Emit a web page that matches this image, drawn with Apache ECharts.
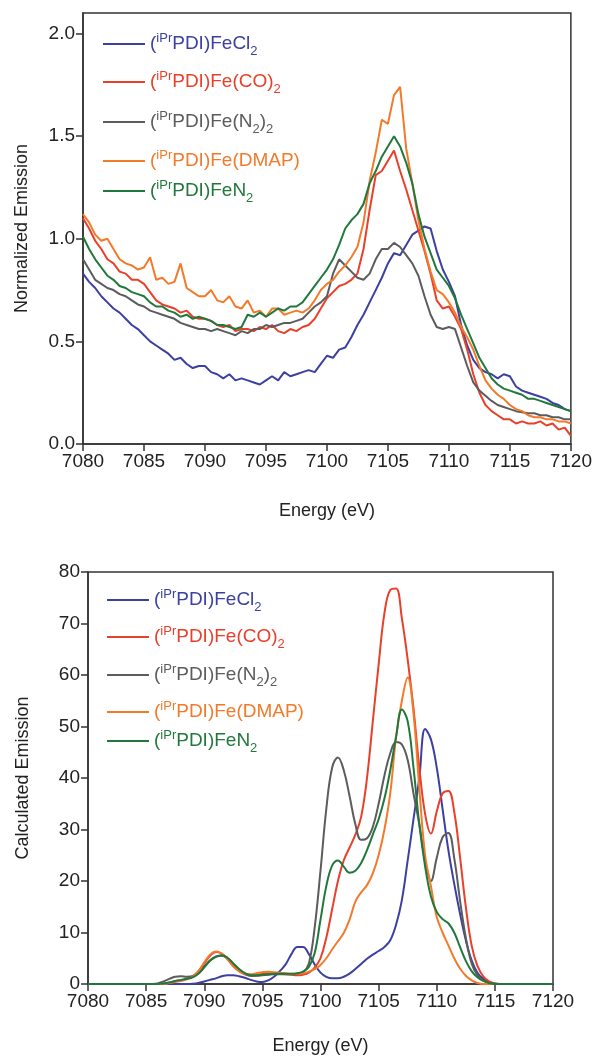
<!DOCTYPE html>
<html>
<head>
<meta charset="utf-8">
<script src="https://cdn.jsdelivr.net/npm/echarts@6/dist/echarts.min.js"></script>
<style>
  html, body { margin: 0; padding: 0; background: #fff; }
  #chart { width: 595px; height: 1056px; }
</style>
</head>
<body>
<div id="chart"></div>
<script>
// series keys / legend labels
var names = ["FeCl2", "Fe(CO)2", "Fe(N2)2", "Fe(DMAP)", "FeN2"];
var colors = ["#3c40a0", "#e8402a", "#5c5c5c", "#f27a2a", "#22783c"];

// ---- top panel: measured emission, energies 7080..7120 every 0.5 eV
var expEnergy = [];
for (var e = 7080; e <= 7120; e += 0.5) expEnergy.push(e);

var expFeCl2 = [0.83,0.79,0.76,0.72,0.69,0.66,0.64,0.61,0.58,0.56,0.53,0.50,0.48,0.46,0.44,0.41,0.42,0.39,0.37,0.38,
  0.38,0.35,0.34,0.32,0.34,0.31,0.32,0.31,0.30,0.29,0.31,0.33,0.31,0.35,0.33,0.34,0.35,0.36,0.35,0.39,
  0.43,0.42,0.46,0.47,0.52,0.58,0.63,0.69,0.75,0.81,0.88,0.93,0.92,0.97,1.02,1.04,1.06,1.05,0.94,0.85,
  0.79,0.72,0.58,0.48,0.41,0.37,0.35,0.34,0.32,0.34,0.33,0.28,0.26,0.25,0.24,0.23,0.22,0.20,0.19,0.17,0.16];
var expFeCO2 = [1.10,1.05,0.99,0.95,0.90,0.88,0.84,0.83,0.80,0.80,0.78,0.74,0.70,0.68,0.67,0.66,0.64,0.65,0.62,0.61,
  0.61,0.60,0.58,0.57,0.58,0.55,0.56,0.56,0.55,0.57,0.56,0.58,0.55,0.54,0.56,0.55,0.57,0.58,0.61,0.66,
  0.71,0.74,0.77,0.78,0.80,0.83,0.95,1.14,1.31,1.33,1.38,1.43,1.33,1.24,1.14,1.04,0.94,0.83,0.70,0.66,
  0.67,0.62,0.56,0.46,0.34,0.25,0.19,0.16,0.14,0.12,0.12,0.10,0.11,0.10,0.10,0.11,0.09,0.10,0.07,0.08,0.04];
var expFeN22 = [0.90,0.85,0.80,0.78,0.76,0.75,0.73,0.72,0.70,0.68,0.67,0.65,0.64,0.63,0.62,0.61,0.59,0.58,0.57,0.56,
  0.56,0.55,0.56,0.55,0.54,0.53,0.55,0.54,0.56,0.56,0.58,0.57,0.58,0.59,0.59,0.60,0.61,0.64,0.67,0.69,
  0.72,0.83,0.90,0.87,0.84,0.81,0.80,0.83,0.90,0.95,0.95,0.98,0.96,0.92,0.88,0.82,0.72,0.63,0.57,0.56,
  0.57,0.56,0.47,0.38,0.30,0.26,0.235,0.21,0.19,0.18,0.17,0.16,0.155,0.15,0.15,0.14,0.14,0.13,0.13,0.12,0.12];
var expFeDMAP = [1.12,1.08,1.02,0.99,1.00,0.95,0.90,0.88,0.87,0.85,0.86,0.91,0.80,0.81,0.78,0.79,0.88,0.76,0.74,0.72,
  0.72,0.75,0.70,0.69,0.72,0.67,0.66,0.70,0.64,0.65,0.62,0.66,0.66,0.63,0.64,0.65,0.64,0.66,0.70,0.75,
  0.78,0.80,0.84,0.87,0.91,0.96,1.08,1.28,1.42,1.58,1.56,1.70,1.74,1.44,1.27,1.09,0.95,0.84,0.75,0.73,
  0.69,0.64,0.57,0.52,0.46,0.38,0.31,0.27,0.24,0.22,0.19,0.17,0.16,0.14,0.13,0.13,0.12,0.12,0.11,0.11,0.10];
var expFeN2 = [1.01,0.95,0.90,0.86,0.82,0.80,0.77,0.76,0.74,0.73,0.72,0.69,0.67,0.67,0.65,0.64,0.62,0.63,0.61,0.62,
  0.61,0.60,0.58,0.58,0.57,0.56,0.57,0.63,0.62,0.64,0.62,0.64,0.66,0.65,0.67,0.67,0.69,0.73,0.77,0.81,
  0.85,0.90,0.97,1.05,1.09,1.12,1.17,1.27,1.33,1.40,1.45,1.50,1.45,1.37,1.27,1.12,1.01,0.93,0.85,0.81,
  0.77,0.71,0.63,0.56,0.49,0.42,0.37,0.32,0.29,0.27,0.26,0.25,0.24,0.22,0.22,0.21,0.20,0.19,0.18,0.17,0.16];

// ---- bottom panel: calculated emission, energies 7084..7116 every 0.5 eV (zero outside)
var calcEnergy = [];
for (var c = 7084; c <= 7116; c += 0.5) calcEnergy.push(c);

var calcFeCl2 = [0,0,0,0,0,0,0,0,0,0,0.05,0.2,0.5,0.8,1.1,1.5,1.7,1.7,1.5,1.2,
  0.8,0.5,0.4,0.7,1.4,2.5,3.8,5.8,7.2,7.2,5.8,3.8,2.2,1.4,1.1,1.1,1.4,2.0,2.9,3.9,
  4.9,5.7,6.4,7.2,8.5,11.5,16.3,24,32,40,49.5,47.5,42,34,26,19.5,13.7,8.5,4.6,2.2,
  1.0,0.4,0.1,0,0];
var calcFeCO2 = [0,0,0,0,0,0.1,0.3,0.5,0.7,1.0,1.5,2.5,4.0,5.5,6.2,5.9,4.8,3.5,2.5,1.9,
  1.6,1.7,2.0,2.1,2.1,2.0,1.9,1.8,1.7,1.8,2.2,3.2,5.0,9,14.5,20,24,26.5,29,32.5,
  40,51,62,72,76.5,76.8,71,63,53.5,42,33,29.2,33.5,37,37.5,33.5,24.7,15,7.5,3.5,
  1.5,0.5,0.1,0,0];
var calcFeN22 = [0,0,0,0,0.1,0.5,1.0,1.4,1.5,1.4,1.5,2.2,3.4,4.6,5.3,5.5,5.0,3.9,2.8,2.0,
  1.6,1.6,1.7,1.8,1.9,1.9,1.9,1.9,2.0,2.3,4,11,22,34,42,44,41.5,36.5,31,28,
  28.3,30.5,35,40.5,44.8,47,46.5,43.5,37,31,24,20,24.5,28.5,29.3,24.5,16.3,9,4,1.7,
  0.7,0.2,0,0,0];
var calcFeDMAP = [0,0,0,0,0,0,0.2,0.4,0.6,0.9,1.4,2.5,4.2,5.7,6.3,5.9,4.8,3.4,2.5,2.0,
  1.9,2.1,2.3,2.4,2.3,2.2,2.1,2.0,2.0,2.1,2.4,2.9,3.7,5.0,6.7,8.3,9.9,12.5,16,17.8,
  19.2,21.5,25,30,37,48,55,59.5,52.5,38,25,19,13,10,7.5,5,3.0,1.6,0.7,0.2,
  0,0,0,0,0];
var calcFeN2 = [0,0,0,0,0,0.1,0.3,0.6,0.8,1.0,1.3,2.0,3.2,4.5,5.3,5.6,5.1,4.0,2.9,2.1,
  1.7,1.7,1.8,1.9,2.0,2.0,2.0,2.0,2.1,2.4,3.3,6,12.5,19,23,24,22.8,21.6,22,23.5,
  26,29,32,36,41.5,48,53.3,51,42,31,22.8,17,14,12.6,11.8,10,7.2,4.5,2.5,1.3,
  0.6,0.2,0,0,0];

var expSets = [expFeCl2, expFeCO2, expFeN22, expFeDMAP, expFeN2];
var calcSets = [calcFeCl2, calcFeCO2, calcFeN22, calcFeDMAP, calcFeN2];

var legendRich = {
  "FeCl2": "{p|(}{s|iPr}{p|PDI)FeCl}{b|2}",
  "Fe(CO)2": "{p|(}{s|iPr}{p|PDI)Fe(CO)}{b|2}",
  "Fe(N2)2": "{p|(}{s|iPr}{p|PDI)Fe(N}{b|2}{p|)}{b|2}",
  "Fe(DMAP)": "{p|(}{s|iPr}{p|PDI)Fe(DMAP)}",
  "FeN2": "{p|(}{s|iPr}{p|PDI)FeN}{b|2}"
};

function pairs(xs, ys) {
  var out = [];
  for (var i = 0; i < xs.length; i++) out.push([xs[i], ys[i]]);
  return out;
}
function padZero(xs, ys) {
  var d = pairs(xs, ys);
  d.unshift([7080, 0]);
  d.push([7120, 0]);
  return d;
}

var font = "Liberation Sans, Arial, sans-serif";
var ink = "#222";

function xAxisFor(gridIndex, gap) {
  return {
    gridIndex: gridIndex,
    type: "value",
    min: 7080,
    max: 7120,
    interval: 5,
    name: "Energy (eV)",
    nameLocation: "middle",
    nameGap: gap,
    nameTextStyle: { fontFamily: font, fontSize: 18, color: ink },
    axisLine: { lineStyle: { color: "#333", width: 1.5 } },
    axisTick: { length: 7, lineStyle: { color: "#333", width: 1.5 } },
    axisLabel: {
      fontFamily: font, fontSize: 19, color: ink, margin: 8,
      formatter: function (v) { return String(v); }
    },
    splitLine: { show: false }
  };
}

var legends = [];
var legendTops = [[27, 65, 105, 144, 174], [583, 620, 658, 695, 724]];
var legendLefts = [98, 102];
for (var g = 0; g < 2; g++) {
  for (var k = 0; k < names.length; k++) {
    legends.push({
      orient: "vertical",
      left: legendLefts[g],
      top: legendTops[g][k],
      icon: "rect",
      itemWidth: 42,
      itemHeight: 2,
      data: [{ name: names[k], textStyle: { color: colors[k] } }],
      formatter: function (n) { return legendRich[n]; },
      textStyle: {
        fontFamily: font,
        rich: {
          p: { fontSize: 19, fontFamily: font },
          s: { fontSize: 13, fontFamily: font, padding: [0, 0, 11, 0] },
          b: { fontSize: 13, fontFamily: font, padding: [14, 0, 0, 0] }
        }
      }
    });
  }
}

var series = [];
for (var i = 0; i < names.length; i++) {
  series.push({
    name: names[i],
    type: "line",
    xAxisIndex: 0,
    yAxisIndex: 0,
    symbol: "none",
    lineStyle: { color: colors[i], width: 2 },
    itemStyle: { color: colors[i] },
    data: pairs(expEnergy, expSets[i])
  });
}
for (var j = 0; j < names.length; j++) {
  series.push({
    name: names[j],
    type: "line",
    xAxisIndex: 1,
    yAxisIndex: 1,
    symbol: "none",
    smooth: 0.4,
    lineStyle: { color: colors[j], width: 2 },
    itemStyle: { color: colors[j] },
    data: padZero(calcEnergy, calcSets[j])
  });
}

var chart = echarts.init(document.getElementById("chart"));
var option = {
  animation: false,
  backgroundColor: "#fff",
  legend: legends,
  grid: [
    { left: 83, right: 23, top: 13, bottom: 612, show: true, borderColor: "#333", borderWidth: 1.5 },
    { left: 88, right: 42, top: 572, bottom: 72, show: true, borderColor: "#333", borderWidth: 1.5 }
  ],
  xAxis: [xAxisFor(0, 58), xAxisFor(1, 53)],
  yAxis: [
    {
      gridIndex: 0,
      type: "value",
      min: 0,
      max: 2.1,
      name: "Normalized Emission",
      nameLocation: "middle",
      nameGap: 52,
      nameTextStyle: { fontFamily: font, fontSize: 18, color: ink },
      axisLine: { lineStyle: { color: "#333", width: 1.5 } },
      axisTick: { length: 7, customValues: [0, 0.5, 1, 1.5, 2], lineStyle: { color: "#333", width: 1.5 } },
      axisLabel: {
        fontFamily: font, fontSize: 19, color: ink, margin: 8,
        customValues: [0, 0.5, 1, 1.5, 2],
        formatter: function (v) { return v.toFixed(1); }
      },
      splitLine: { show: false }
    },
    {
      gridIndex: 1,
      type: "value",
      min: 0,
      max: 80,
      interval: 10,
      name: "Calculated Emission",
      nameLocation: "middle",
      nameGap: 56,
      nameTextStyle: { fontFamily: font, fontSize: 18, color: ink },
      axisLine: { lineStyle: { color: "#333", width: 1.5 } },
      axisTick: { length: 7, lineStyle: { color: "#333", width: 1.5 } },
      axisLabel: { fontFamily: font, fontSize: 19, color: ink, margin: 8 },
      splitLine: { show: false }
    }
  ],
  series: series
};
option && chart.setOption(option);
</script>
</body>
</html>
